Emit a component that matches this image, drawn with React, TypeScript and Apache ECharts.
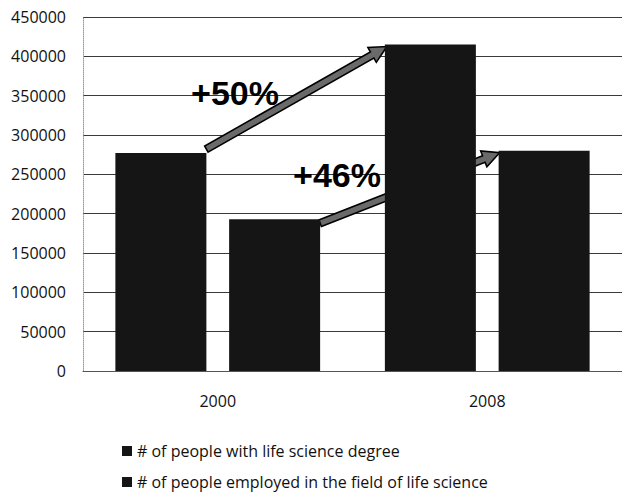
import React, { useEffect, useRef } from "react";
import * as echarts from "echarts";

const categories = ["2000", "2008"];
const seriesNames = [
  "# of people with life science degree",
  "# of people employed in the field of life science",
];
const degreeValues = [277000, 415000];
const employedValues = [193000, 280000];
const growthLabels = ["+50%", "+46%"];
const yMin = 0;
const yMax = 450000;
const yInterval = 50000;

type P = number[];

function arrowPoints(p0: P, p1: P, w: number, L: number, W: number): number[][] {
  const dx = p1[0] - p0[0];
  const dy = p1[1] - p0[1];
  const len = Math.sqrt(dx * dx + dy * dy);
  const ux = dx / len;
  const uy = dy / len;
  const nx = -uy;
  const ny = ux;
  const bx = p1[0] - ux * L;
  const by = p1[1] - uy * L;
  return [
    [p0[0] + (nx * w) / 2, p0[1] + (ny * w) / 2],
    [bx + (nx * w) / 2, by + (ny * w) / 2],
    [bx + (nx * W) / 2, by + (ny * W) / 2],
    [p1[0], p1[1]],
    [bx - (nx * W) / 2, by - (ny * W) / 2],
    [bx - (nx * w) / 2, by - (ny * w) / 2],
    [p0[0] - (nx * w) / 2, p0[1] - (ny * w) / 2],
  ];
}

export default function App() {
  const ref = useRef<HTMLDivElement>(null);

  useEffect(() => {
    if (!ref.current) return;
    const chart = echarts.init(ref.current, null, { renderer: "svg" });
    const barWidth = 91;
    const barGapPct = 25;
    const labelFont = "'Open Sans', 'Noto Sans', sans-serif";

    chart.setOption({
      animation: false,
      backgroundColor: "#ffffff",
      textStyle: { fontFamily: labelFont },
      grid: { left: 83, right: -3, top: 17, bottom: 125, containLabel: false },
      legend: {
        orient: "vertical",
        left: 122,
        top: 443,
        padding: 0,
        itemWidth: 10,
        itemHeight: 10,
        itemGap: 15,
        icon: "rect",
        textStyle: {
          fontSize: 16,
          lineHeight: 16,
          color: "#111",
          fontFamily: labelFont,
        },
        data: seriesNames,
      },
      xAxis: {
        type: "category",
        data: categories,
        axisTick: { show: false },
        axisLine: { show: true, lineStyle: { color: "#555", width: 1 } },
        axisLabel: { fontSize: 16, color: "#111", margin: 22, fontFamily: labelFont },
      },
      yAxis: {
        type: "value",
        min: yMin,
        max: yMax,
        interval: yInterval,
        axisLine: { show: true, lineStyle: { color: "#999", width: 1, type: "dotted" } },
        axisTick: { show: false },
        axisLabel: {
          fontSize: 16,
          color: "#111",
          margin: 17,
          fontFamily: labelFont,
          formatter: (v: number) => String(v),
        },
        splitLine: { show: true, lineStyle: { color: "#3a3a3a", width: 1 } },
      },
      series: [
        {
          name: seriesNames[0],
          type: "bar",
          data: degreeValues,
          barWidth,
          barGap: barGapPct + "%",
          itemStyle: { color: "#151515" },
        },
        {
          name: seriesNames[1],
          type: "bar",
          data: employedValues,
          barWidth,
          barGap: barGapPct + "%",
          itemStyle: { color: "#151515" },
        },
      ],
    });

    const half = (barWidth * barGapPct) / 100 / 2;
    const px = (i: number, v: number) =>
      chart.convertToPixel({ xAxisIndex: 0, yAxisIndex: 0 }, [i, v]) as number[];

    const d0 = px(0, degreeValues[0]);
    const d1 = px(1, degreeValues[1]);
    const e0 = px(0, employedValues[0]);
    const e1 = px(1, employedValues[1]);

    const a1 = arrowPoints(
      [d0[0] - half, d0[1] - 4],
      [d1[0] - half - barWidth + 2, d1[1] + 2],
      7,
      17,
      17
    );
    const a2 = arrowPoints(
      [e0[0] + half + barWidth, e0[1] + 4],
      [e1[0] + half + 1, e1[1] + 2],
      7,
      17,
      17
    );

    const arrowStyle = { fill: "#6a6a6a", stroke: "#000", lineWidth: 1.6 };

    chart.setOption({
      graphic: [
        { type: "polygon", z: 1, shape: { points: a1 }, style: arrowStyle },
        { type: "polygon", z: 1, shape: { points: a2 }, style: arrowStyle },
        {
          type: "text",
          z: 5,
          x: 235,
          y: 93,
          style: {
            text: growthLabels[0],
            font: "bold 34px 'Liberation Sans', Arial, sans-serif",
            fill: "#000",
            align: "center",
            verticalAlign: "middle",
          },
        },
        {
          type: "text",
          z: 5,
          x: 337,
          y: 175,
          style: {
            text: growthLabels[1],
            font: "bold 34px 'Liberation Sans', Arial, sans-serif",
            fill: "#000",
            align: "center",
            verticalAlign: "middle",
          },
        },
      ],
    });

    return () => {
      chart.dispose();
    };
  }, []);

  return (
    <div
      ref={ref}
      style={{ position: "fixed", left: 0, top: 0, width: 622, height: 496 }}
    />
  );
}
